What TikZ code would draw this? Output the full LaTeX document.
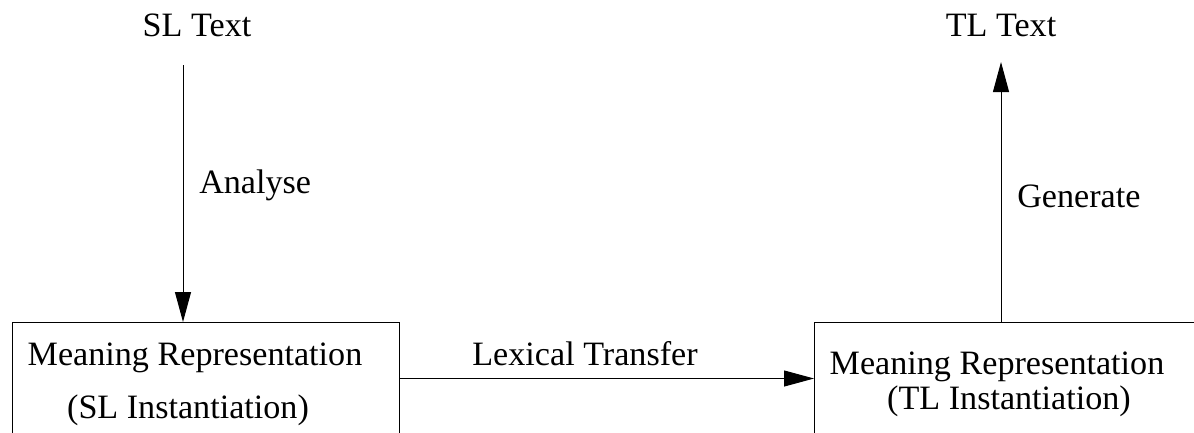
\documentclass[tikz,border=0pt]{standalone}
\usepackage{fontspec}
\setmainfont{Liberation Serif}
\usetikzlibrary{arrows.meta}

\tikzset{
  lbl/.style={inner sep=0pt, font=\fontsize{25.6}{30}\selectfont},
  stagebox/.style={draw, line width=0.75pt, inner sep=0pt,
    minimum width=290.25pt, minimum height=90pt, anchor=north west},
  flow/.style={line width=0.75pt,
    -{Triangle[length=22.5pt, width=12pt]}}
}

\begin{document}
\begin{tikzpicture}[x=0.75pt, y=-0.75pt]
\useasboundingbox (0,0) rectangle (1194,432);

% stage boxes (they run past the lower edge of the page)
\node[stagebox] (lbox) at (12,322) {};
\node[stagebox] (rbox) at (814,322) {};

% texts
\node[lbl, anchor=base] (sl) at (197,36) {SL Text};
\node[lbl, anchor=base] (tl) at (1001,36) {TL Text};
\node[lbl, anchor=base west] (ana) at (199,193) {Analyse};
\node[lbl, anchor=base west] (gen) at (1017,207) {Generate};
\node[lbl, anchor=base] (lex) at (585,365) {Lexical Transfer};

\node[lbl, anchor=base] (lm) at (195,365) {Meaning Representation};
\node[lbl, anchor=base] (li) at (188,418) {(SL Instantiation)};
\node[lbl, anchor=base] (rm) at (997,374) {Meaning Representation};
\node[lbl, anchor=base] (ri) at (1009,409) {(TL Instantiation)};

% connector end points
\coordinate (afoot) at (183,65);
\coordinate (gtip) at (1001,62);
\coordinate (hrow) at (0,378.5);

% connectors
\draw[flow] (afoot) -- (afoot |- lbox.north);
\draw[flow] (gtip |- rbox.north) -- (gtip);
\draw[flow] (lbox.east |- hrow) -- (rbox.west |- hrow);
\end{tikzpicture}
\end{document}
